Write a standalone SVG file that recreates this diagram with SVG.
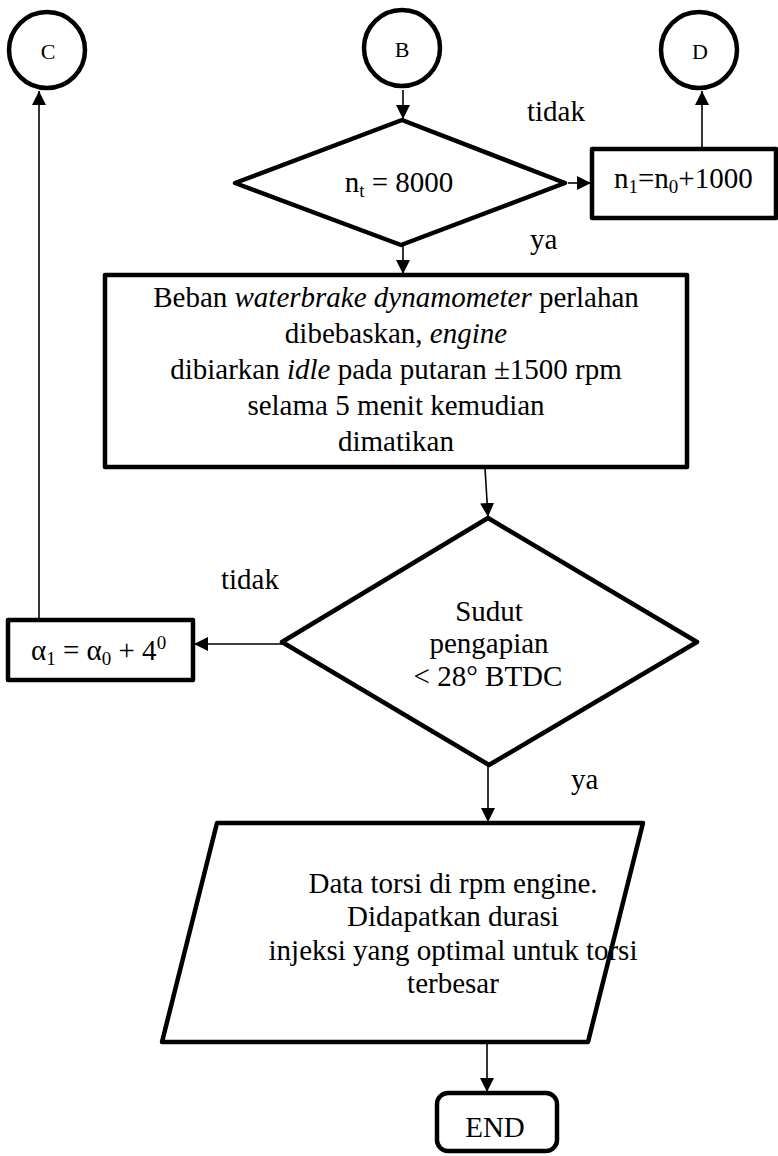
<svg xmlns="http://www.w3.org/2000/svg" width="778" height="1156" viewBox="0 0 778 1156">
  <style>
    .shape { fill: #ffffff; stroke: #000000; stroke-width: 4.5; stroke-linejoin: round; }
    .conn { fill: none; stroke: #000000; stroke-width: 1.6; }
    text { font-family: "Liberation Serif", "Times New Roman", serif; fill: #000000; font-size: 29px; }
    .mid { text-anchor: middle; }
    .small { font-size: 22px; }
  </style>
  <defs>
    <marker id="arrow" markerUnits="userSpaceOnUse" markerWidth="14" markerHeight="14" viewBox="0 0 14 14" refX="14" refY="7" orient="auto">
      <path d="M0,0 L14,7 L0,14 Z" fill="#000000"/>
    </marker>
  </defs>
  <rect width="778" height="1156" fill="#ffffff"/>

  <!-- connectors -->
  <g id="connectors">
    <line class="conn" x1="403" y1="90" x2="403" y2="119" marker-end="url(#arrow)"/>
    <line class="conn" x1="568" y1="183" x2="591" y2="183" marker-end="url(#arrow)"/>
    <line class="conn" x1="702" y1="149" x2="702" y2="91" marker-end="url(#arrow)"/>
    <line class="conn" x1="403" y1="246" x2="403" y2="274" marker-end="url(#arrow)"/>
    <line class="conn" x1="485" y1="468" x2="488" y2="517" marker-end="url(#arrow)"/>
    <line class="conn" x1="282" y1="644" x2="194" y2="644" marker-end="url(#arrow)"/>
    <line class="conn" x1="39" y1="620" x2="39" y2="91" marker-end="url(#arrow)"/>
    <line class="conn" x1="488" y1="765" x2="488" y2="822" marker-end="url(#arrow)"/>
    <line class="conn" x1="487" y1="1043" x2="487" y2="1092" marker-end="url(#arrow)"/>
  </g>

  <!-- connector labels -->
  <g id="labels">
    <text x="527" y="121">tidak</text>
    <text x="530" y="249">ya</text>
    <text x="221" y="589">tidak</text>
    <text x="571" y="789">ya</text>
  </g>

  <g id="node-c">
    <circle class="shape" cx="47" cy="50" r="38"/>
    <text class="mid small" x="48" y="59">C</text>
  </g>

  <g id="node-b">
    <circle class="shape" cx="402" cy="48" r="38"/>
    <text class="mid small" x="402" y="57">B</text>
  </g>

  <g id="node-d">
    <circle class="shape" cx="699" cy="50" r="38"/>
    <text class="mid small" x="700" y="59">D</text>
  </g>

  <g id="decision-rpm">
    <polygon class="shape" points="402,120 565,183 401,245 235,183"/>
    <text class="mid" x="399" y="192">n<tspan font-size="19" dy="5">t</tspan><tspan dy="-5"> = 8000</tspan></text>
  </g>

  <g id="step-rpm">
    <rect class="shape" x="592" y="149" width="184" height="69"/>
    <text x="614" y="188">n<tspan font-size="19" dy="5">1</tspan><tspan dy="-5">=n</tspan><tspan font-size="19" dy="5">0</tspan><tspan dy="-5">+1000</tspan></text>
  </g>

  <g id="step-release">
    <rect class="shape" x="105" y="275" width="582" height="192"/>
    <text class="mid" x="396" y="307">Beban <tspan font-style="italic">waterbrake dynamometer</tspan> perlahan</text>
    <text class="mid" x="396" y="343">dibebaskan, <tspan font-style="italic">engine</tspan></text>
    <text class="mid" x="396" y="379">dibiarkan <tspan font-style="italic">idle</tspan> pada putaran ±1500 rpm</text>
    <text class="mid" x="396" y="415">selama 5 menit kemudian</text>
    <text class="mid" x="396" y="451">dimatikan</text>
  </g>

  <g id="decision-angle">
    <polygon class="shape" points="488,518 697,642 489,765 282,642"/>
    <text class="mid" x="489" y="621">Sudut</text>
    <text class="mid" x="489" y="653">pengapian</text>
    <text class="mid" x="488" y="686">&lt; 28° BTDC</text>
  </g>

  <g id="step-angle">
    <rect class="shape" x="8" y="620" width="185" height="60"/>
    <text x="31" y="660">α<tspan font-size="19" dy="5">1</tspan><tspan dy="-5"> = α</tspan><tspan font-size="19" dy="5">0</tspan><tspan dy="-5"> + 4</tspan><tspan font-size="19" dy="-11">0</tspan></text>
  </g>

  <g id="output-data">
    <polygon class="shape" points="217,823 643,823 588,1042 162,1042"/>
    <text class="mid" x="453" y="893">Data torsi di rpm engine.</text>
    <text class="mid" x="453" y="926">Didapatkan durasi</text>
    <text class="mid" x="453" y="960">injeksi yang optimal untuk torsi</text>
    <text class="mid" x="453" y="993">terbesar</text>
  </g>

  <g id="node-end">
    <rect class="shape" x="437" y="1093" width="120" height="58" rx="11" ry="11"/>
    <text class="mid" x="495" y="1137">END</text>
  </g>
</svg>
